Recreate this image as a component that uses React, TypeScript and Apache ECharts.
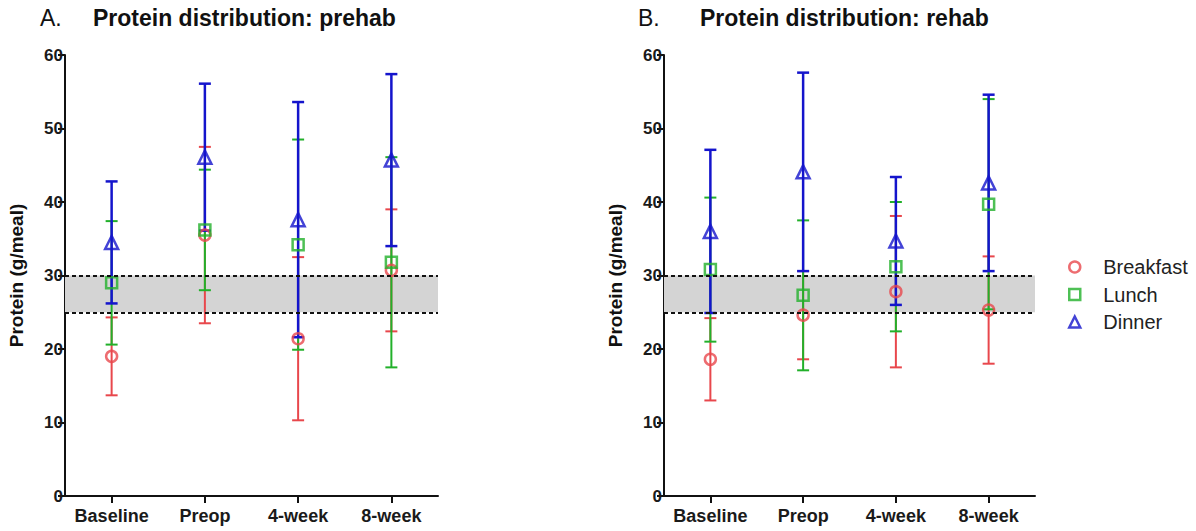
import React, { useEffect, useRef } from "react";
import * as echarts from "echarts";

const categories = ["Baseline", "Preop", "4-week", "8-week"];
const meals = ["Breakfast", "Lunch", "Dinner"];
const yTicks = [0, 10, 20, 30, 40, 50, 60];
const targetBand = [25, 30];

// Panel A: prehab (mean and SD)
const prehabBreakfastMean = [19.0, 35.5, 21.4, 30.7];
const prehabBreakfastSd = [5.3, 12.0, 11.1, 8.3];
const prehabLunchMean = [29.0, 36.2, 34.2, 31.8];
const prehabLunchSd = [8.4, 8.2, 14.3, 14.3];
const prehabDinnerMean = [34.5, 46.1, 37.6, 45.7];
const prehabDinnerSd = [8.3, 10.0, 16.0, 11.7];

// Panel B: rehab (mean and SD)
const rehabBreakfastMean = [18.6, 24.6, 27.8, 25.3];
const rehabBreakfastSd = [5.6, 6.0, 10.3, 7.3];
const rehabLunchMean = [30.8, 27.3, 31.2, 39.7];
const rehabLunchSd = [9.8, 10.2, 8.8, 14.3];
const rehabDinnerMean = [36.0, 44.1, 34.7, 42.6];
const rehabDinnerSd = [11.1, 13.5, 8.7, 12.0];

const COLORS = ["#e8474c", "#22b02a", "#1414cc"];
const SYMBOLS = ["circle", "rect", "triangle"];
const SIZES = [11, 11, 13];
const FONT = "Arial, 'Liberation Sans', Helvetica, sans-serif";

export default function App() {
  const ref = useRef<HTMLDivElement>(null);

  useEffect(() => {
    if (!ref.current) return;
    const chart = echarts.init(ref.current, null, { renderer: "svg" });

    const panels = [
      { means: [prehabBreakfastMean, prehabLunchMean, prehabDinnerMean], sds: [prehabBreakfastSd, prehabLunchSd, prehabDinnerSd] },
      { means: [rehabBreakfastMean, rehabLunchMean, rehabDinnerMean], sds: [rehabBreakfastSd, rehabLunchSd, rehabDinnerSd] },
    ];

    const grids = [
      { left: 65, width: 373, top: 55, bottom: 35 },
      { left: 664, width: 371, top: 55, bottom: 35 },
    ];

    const xAxes = grids.map((_, gi) => ({
      type: "category",
      gridIndex: gi,
      data: categories,
      boundaryGap: true,
      axisLine: { show: true, lineStyle: { color: "#111", width: 2 } },
      axisTick: { show: true, alignWithLabel: true, length: 7, lineStyle: { color: "#111", width: 2 } },
      axisLabel: { interval: 0, hideOverlap: false, color: "#1a1a1a", fontSize: 18, fontWeight: "bold", fontFamily: FONT, margin: 11 },
      splitLine: { show: false },
    }));

    const yAxes = grids.map((_, gi) => ({
      type: "value",
      gridIndex: gi,
      min: yTicks[0],
      max: yTicks[yTicks.length - 1],
      interval: 10,
      name: "Protein (g/meal)",
      nameLocation: "middle",
      nameGap: 39,
      nameTextStyle: { color: "#111", fontSize: 19, fontWeight: "bold", fontFamily: FONT },
      axisLine: { show: true, lineStyle: { color: "#111", width: 2 } },
      axisTick: { show: true, length: 7, lineStyle: { color: "#111", width: 2 } },
      axisLabel: { color: "#1a1a1a", fontSize: 17, fontWeight: "bold", fontFamily: FONT, margin: 2 },
      splitLine: { show: false },
    }));

    const series: any[] = [];
    panels.forEach((p, gi) => {
      meals.forEach((meal, mi) => {
        const color = COLORS[mi];
        const lw = mi === 2 ? 2.5 : 2;
        const errData = categories.map((_, i) => [i, p.means[mi][i] - p.sds[mi][i], p.means[mi][i] + p.sds[mi][i]]);
        const err: any = {
          type: "custom",
          name: meal + " SD " + gi,
          xAxisIndex: gi,
          yAxisIndex: gi,
          data: errData,
          encode: { x: 0, y: [1, 2] },
          silent: true,
          renderItem: (params: any, api: any) => {
            const x = api.value(0);
            const lo = api.coord([x, api.value(1)]);
            const hi = api.coord([x, api.value(2)]);
            const w = 6;
            const style = { stroke: color, lineWidth: lw };
            return {
              type: "group",
              children: [
                { type: "line", shape: { x1: lo[0], y1: lo[1], x2: hi[0], y2: hi[1] }, style },
                { type: "line", shape: { x1: lo[0] - w, y1: lo[1], x2: lo[0] + w, y2: lo[1] }, style },
                { type: "line", shape: { x1: hi[0] - w, y1: hi[1], x2: hi[0] + w, y2: hi[1] }, style },
              ],
            };
          },
        };
        if (mi === 0) {
          err.markArea = {
            silent: true,
            itemStyle: { color: "#d4d4d4" },
            data: [[{ yAxis: targetBand[0] }, { yAxis: targetBand[1] }]],
          };
          err.markLine = {
            silent: true,
            symbol: "none",
            label: { show: false },
            lineStyle: { color: "#111", width: 2, type: [4, 3] },
            data: [{ yAxis: targetBand[0] }, { yAxis: targetBand[1] }],
          };
        }
        series.push(err);
        series.push({
          type: "scatter",
          name: meal,
          xAxisIndex: gi,
          yAxisIndex: gi,
          data: p.means[mi],
          symbol: SYMBOLS[mi],
          symbolSize: SIZES[mi],
          itemStyle: { color: "rgba(255,255,255,0)", borderColor: color, borderWidth: 2.5 },
          z: 3,
        });
      });
    });

    const titleStyle = (bold: boolean) => ({
      fontSize: 23,
      fontWeight: bold ? "bold" : "normal",
      color: "#111",
      fontFamily: FONT,
    });

    const option: any = {
      animation: false,
      backgroundColor: "#ffffff",
      title: [
        { text: "A.", left: 40, top: 6, padding: 0, textStyle: titleStyle(false) },
        { text: "Protein distribution: prehab", left: 93, top: 6, padding: 0, textStyle: titleStyle(true) },
        { text: "B.", left: 638, top: 6, padding: 0, textStyle: titleStyle(false) },
        { text: "Protein distribution: rehab", left: 700, top: 6, padding: 0, textStyle: titleStyle(true) },
      ],
      legend: {
        orient: "vertical",
        left: 1068,
        top: 257,
        itemWidth: 11,
        itemHeight: 11,
        itemGap: 7.5,
        padding: 0,
        selectedMode: false,
        textStyle: { fontSize: 20, color: "#222", fontFamily: FONT, lineHeight: 20, padding: [0, 0, 0, 18] },
        data: meals.map((m, mi) => ({
          name: m,
          icon: SYMBOLS[mi],
          itemStyle: { color: "rgba(255,255,255,0)", borderColor: COLORS[mi], borderWidth: 2.5 },
        })),
      },
      grid: grids,
      xAxis: xAxes,
      yAxis: yAxes,
      series,
    };

    chart.setOption(option);
    return () => chart.dispose();
  }, []);

  return (
    <div
      ref={ref}
      style={{ position: "fixed", left: 0, top: 0, width: 1196, height: 531, background: "#fff" }}
    />
  );
}
